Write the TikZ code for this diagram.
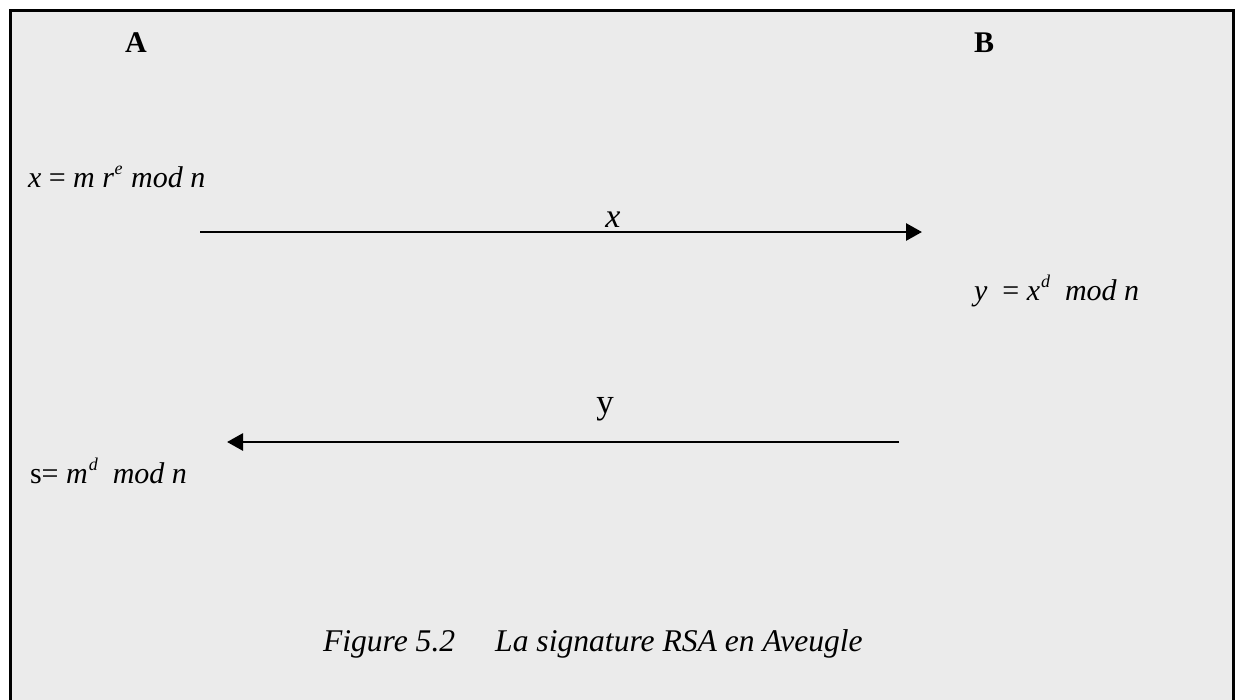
\documentclass[tikz,border=0pt]{standalone}
\usepackage{fontspec}
\setmainfont{Liberation Serif}
\usetikzlibrary{arrows.meta}
\definecolor{bgray}{RGB}{235,235,235}
\newcommand{\supit}[1]{\raisebox{0.42em}{\fontsize{18}{18}\selectfont\itshape #1}}
\tikzset{
  txt/.style={inner sep=0pt, outer sep=0pt, anchor=base west, font=\fontsize{30}{36}\selectfont},
  lbl/.style={inner sep=0pt, outer sep=0pt, anchor=base},
  arr/.style={line width=2.8pt, -{Triangle[length=16pt,width=17pt]}},
  frame/.style={line width=2.6pt, fill=bgray, draw=black}
}
\begin{document}
\begin{tikzpicture}[x=1pt,y=-1pt]
\useasboundingbox (0,0) rectangle (1237,699);
\clip (0,0) rectangle (1237,699);
\fill[white] (0,0) rectangle (1237,699);
\draw[frame] (10.5,10.5) rectangle (1233.5,730);
% headers
\node[lbl, font=\fontsize{30}{36}\selectfont\bfseries] (A) at (136,52) {A};
\node[lbl, font=\fontsize{30}{36}\selectfont\bfseries] (B) at (984,52) {B};
% formulas
\node[txt] (fx) at (28,187) {\textit{x} = \textit{m r}\kern0.5pt\supit{e}\kern1pt\ \textit{mod n}};
\node[txt] (fy) at (974,300) {\textit{y}\ \ = \textit{x}\kern1pt\supit{d}\ \ \textit{mod n}};
\node[txt] (fs) at (30,483) {s= \textit{m}\kern1pt\supit{d}\ \ \textit{mod n}};
% arrows
\coordinate (a1s) at (200,232);
\coordinate (a1e) at (922,232);
\draw[arr] (a1s) -- (a1e);
\node[lbl, font=\fontsize{34}{40}\selectfont\itshape] (lx) at (613,227) {x};
\coordinate (a2s) at (899,442);
\coordinate (a2e) at (227,442);
\draw[arr] (a2s) -- (a2e);
\node[lbl, font=\fontsize{35}{40}\selectfont] (ly) at (605,413) {y};
% caption
\node[txt, font=\fontsize{31.6}{36}\selectfont\itshape] (cap) at (323,651) {Figure 5.2\hspace{40pt}La signature RSA en Aveugle};
\end{tikzpicture}
\end{document}
